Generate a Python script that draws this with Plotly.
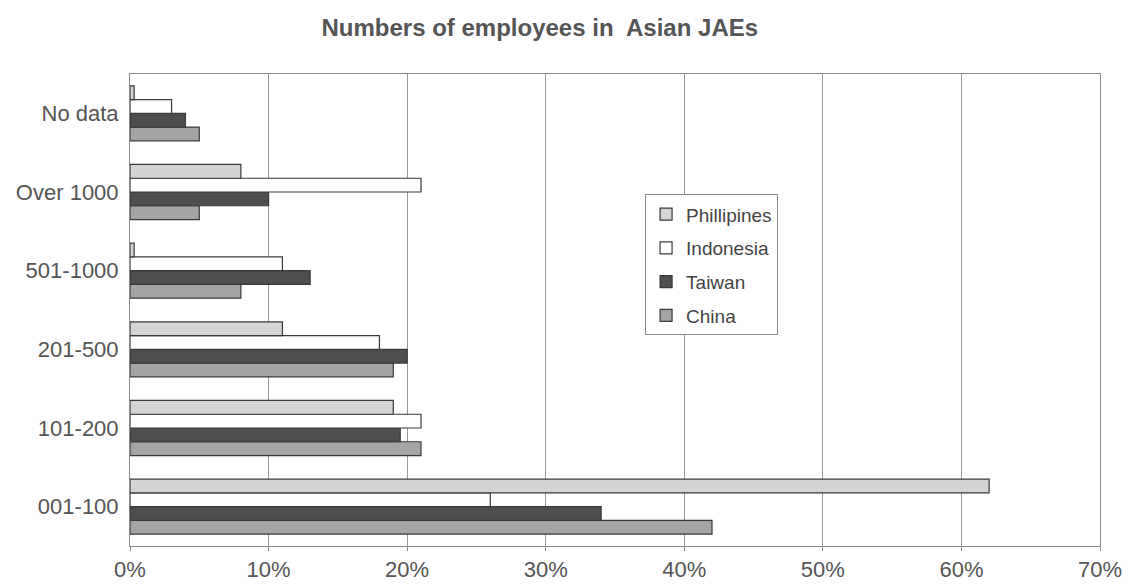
import plotly.graph_objects as go

categories = ["001-100", "101-200", "201-500", "501-1000", "Over 1000", "No data"]
phillipines = [62, 19, 11, 0.3, 8, 0.3]
indonesia = [26, 21, 18, 11, 21, 3]
taiwan = [34, 19.5, 20, 13, 10, 4]
china = [42, 21, 19, 8, 5, 5]
x_ticks = [0, 10, 20, 30, 40, 50, 60, 70]
x_tick_labels = ["0%", "10%", "20%", "30%", "40%", "50%", "60%", "70%"]

series = [
    ("China", china, "#a4a4a4"),
    ("Taiwan", taiwan, "#4e4e4e"),
    ("Indonesia", indonesia, "#ffffff"),
    ("Phillipines", phillipines, "#d4d4d4"),
]

fig = go.Figure()
for i, (name, vals, col) in enumerate(series):
    fig.add_trace(go.Bar(
        y=categories, x=vals, name=name, orientation="h",
        marker=dict(color=col, line=dict(color="#3a3a3a", width=1.2)),
        legendgroup=name, legendrank=100 - i,
    ))

fig.update_layout(
    width=1134, height=586,
    margin=dict(l=130, r=34, t=74, b=40, autoexpand=False),
    paper_bgcolor="white", plot_bgcolor="white",
    barmode="group", bargap=0.3, bargroupgap=0,
    font=dict(family="Liberation Sans, Arial", color="#444444", size=22),
    title=dict(text="<b>Numbers of employees in  Asian JAEs</b>", x=0.476, xanchor="center",
               y=0.953, yanchor="middle", font=dict(size=24, color="#555555")),
    xaxis=dict(range=[0, 70], tickvals=x_ticks, ticktext=x_tick_labels,
               showgrid=True, gridcolor="#9a9a9a", gridwidth=1,
               showline=True, linecolor="#8a8a8a", mirror=True,
               ticks="outside", ticklen=4, tickcolor="#8a8a8a", automargin=False,
               ticklabelstandoff=0,
               tickfont=dict(size=22, color="#555555"), zeroline=False),
    yaxis=dict(showline=True, linecolor="#8a8a8a", mirror=True, linewidth=1, automargin=False,
               ticks="", tickfont=dict(size=22, color="#555555"), ticklabelstandoff=6),
    legend=dict(x=0.531, y=0.745, xanchor="left", yanchor="top",
                traceorder="grouped", tracegroupgap=6,
                bordercolor="#8a8a8a", borderwidth=1, bgcolor="white",
                font=dict(size=19, color="#444444"), itemwidth=30),
)
fig.write_html("out.html")
